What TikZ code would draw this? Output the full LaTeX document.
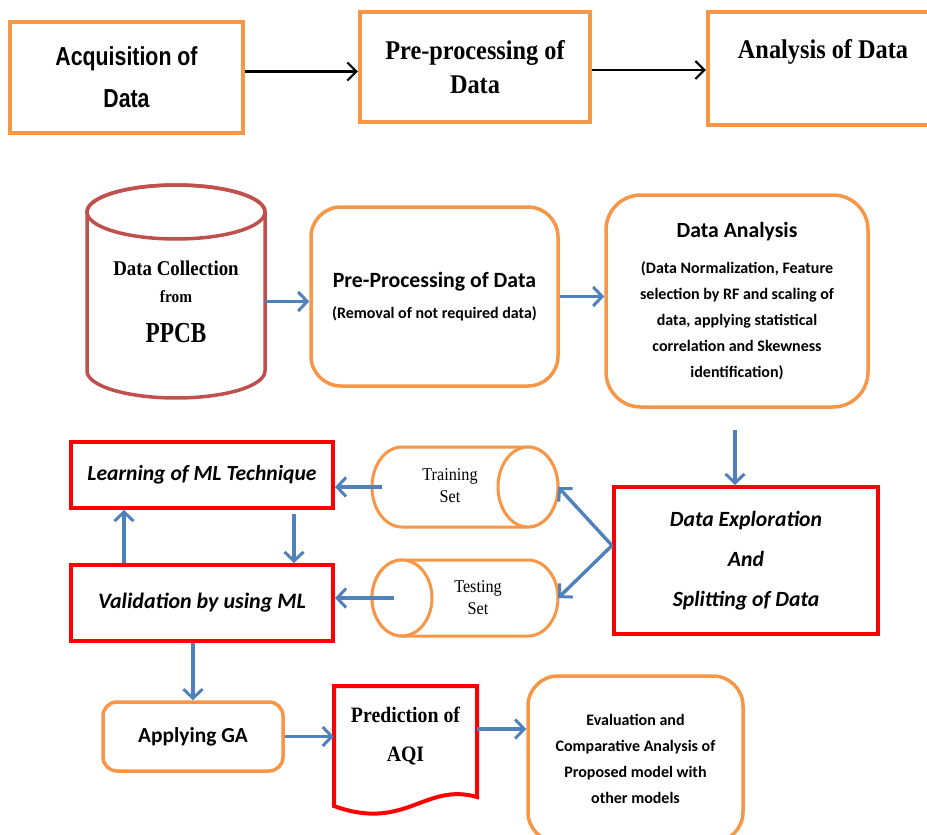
\documentclass[tikz,border=0pt]{standalone}
\usepackage{fontspec}
\setmainfont{Carlito}
\newfontfamily\tnr[FakeStretch=0.9]{Liberation Serif}
\newfontfamily\tnrn[FakeStretch=0.8]{Liberation Serif}
\newfontfamily\narrowsans[FakeStretch=0.82]{Liberation Sans}
\usetikzlibrary{arrows.meta}
\definecolor{orng}{HTML}{F79646}
\definecolor{dred}{HTML}{C0504D}
\definecolor{blu}{HTML}{4F81BD}
\begin{document}
\begin{tikzpicture}[x=1pt,y=-1pt,
  sqbox/.style={draw=orng, line width=4.5pt, fill=white, inner sep=0pt},
  obox/.style={draw=orng, line width=3.5pt, fill=white, rounded corners=30pt, inner sep=0pt, align=center},
  rbox/.style={draw=red, line width=4pt, fill=white, inner sep=0pt, align=center},
  ghost/.style={inner sep=0pt},
  karrow/.style={draw=black, line width=2.2pt, -{Straight Barb[length=9pt,width=18pt,line width=2pt]}},
  barrow/.style={draw=blu, line width=3.4pt, -{Straight Barb[length=9pt,width=19pt,line width=3pt]}},
  cyl/.style={draw=orng, line width=3pt, fill=white},
  txtc/.style={align=center, inner sep=0pt}
]
\useasboundingbox (0,0) rectangle (927,835);
\clip (0,0) rectangle (927,835);

% ---- top row ----
\node[sqbox, minimum width=233pt, minimum height=111pt, align=center,
      font=\narrowsans\bfseries\fontsize{26}{42}\selectfont] (b1) at (126.5,77.5) {Acquisition of\\Data};
\node[sqbox, minimum width=230pt, minimum height=110pt, align=center,
      font=\tnr\bfseries\fontsize{27}{34}\selectfont] (b2) at (475,67) {Pre-processing of\\Data};
\node[sqbox, minimum width=240pt, minimum height=113pt] (b3) at (828,68.5) {};
\node[txtc, font=\tnr\bfseries\fontsize{27}{30}\selectfont] (b3t) at (823,52) {Analysis of Data};

\coordinate (a1) at ([yshift=6pt]b1.east);
\draw[karrow] (a1) -- (a1 -| b2.west);
\coordinate (a2) at ([yshift=-3pt]b2.east);
\draw[karrow] (a2) -- (a2 -| b3.west);

% ---- PPCB cylinder ----
\draw[draw=dred, line width=3.5pt, fill=white]
  (87,212) -- (87,371) arc[start angle=180, end angle=0, x radius=89, y radius=27]
  -- (265,212) arc[start angle=0, end angle=-180, x radius=89, y radius=27] -- cycle;
\draw[draw=dred, line width=3.5pt] (176,212) ellipse [x radius=89, y radius=27];
\node[txtc, minimum width=178pt, font=\tnr\bfseries\fontsize{21}{27}\selectfont] (ppcb) at (176,302)
  {Data Collection\\{\fontsize{17}{27}\selectfont from}\\[13pt]{\tnrn\bfseries\fontsize{29}{31}\selectfont PPCB}};

% ---- pre-processing, data analysis ----
\node[obox, minimum width=247pt, minimum height=179pt] (prep) at (434.5,296.5)
  {{\bfseries\fontsize{21.8}{25}\selectfont Pre-Processing of Data}\\[14pt]
   {\bfseries\fontsize{16}{18}\selectfont (Removal of not required data)}};
\node[obox, rounded corners=35pt, minimum width=262pt, minimum height=212pt,
      font=\bfseries\fontsize{16}{26}\selectfont] (da) at (737,301)
  {{\fontsize{21.7}{25}\selectfont Data Analysis}\\[10pt]
   (Data Normalization, Feature\\selection by RF and scaling of\\data, applying statistical\\correlation and Skewness\\identification)};

\coordinate (a3) at ([yshift=-5pt]prep.west);
\draw[barrow] (a3 -| ppcb.east) -- (a3);
\draw[barrow] (prep.east) -- (prep.east -| da.west);

% ---- data exploration ----
\node[rbox, minimum width=264pt, minimum height=147pt,
      font=\bfseries\itshape\fontsize{21.7}{40}\selectfont] (de) at (746,560.5)
  {Data Exploration\\And\\Splitting of Data};
\coordinate (a5) at (735,430);
\draw[barrow] (a5) -- (a5 |- de.north);

% ---- training / testing cylinders ----
\draw[cyl] (528,447) -- (402,447) arc[start angle=270, end angle=90, x radius=30, y radius=40]
  -- (528,527) arc[start angle=90, end angle=-90, x radius=30, y radius=40] -- cycle;
\draw[cyl] (528,487) ellipse [x radius=30, y radius=40];
\node[ghost, minimum width=186pt, minimum height=80pt] (train) at (465,487) {};
\node[txtc, font=\tnr\fontsize{18}{22}\selectfont] at (450,486) {Training\\Set};

\draw[cyl] (402,560) -- (528,560) arc[start angle=-90, end angle=90, x radius=30, y radius=38]
  -- (402,636) arc[start angle=90, end angle=270, x radius=30, y radius=38] -- cycle;
\draw[cyl] (402,598) ellipse [x radius=30, y radius=38];
\node[ghost, minimum width=186pt, minimum height=76pt] (test) at (465,598) {};
\node[txtc, font=\tnr\fontsize{18}{22}\selectfont] at (478,598) {Testing\\Set};

\coordinate (a6) at ([yshift=15pt]de.west);
\draw[barrow] (a6) -- (train.east);
\draw[barrow] (a6) -- (test.east);

% ---- learning / validation ----
\node[rbox, minimum width=262pt, minimum height=66pt,
      font=\bfseries\itshape\fontsize{21.6}{25}\selectfont] (learn) at (202,475) {Learning of ML Technique};
\node[rbox, minimum width=262pt, minimum height=76pt,
      font=\bfseries\itshape\fontsize{22}{25}\selectfont] (val) at (202,603) {Validation by using ML};

\coordinate (a7) at ([xshift=10pt]train.west);
\draw[barrow] (a7) -- (a7 -| learn.east);
\coordinate (a8) at ([xshift=22pt]test.west);
\draw[barrow] (a8) -- (a8 -| val.east);
\coordinate (a9) at ([xshift=55pt]val.north west);
\draw[barrow] (a9) -- (a9 |- learn.south);
\coordinate (a10) at ([xshift=225pt,yshift=-4pt]learn.south west);
\draw[barrow] (a10) -- (a10 |- val.north);

% ---- bottom row ----
\node[obox, rounded corners=14pt, minimum width=180pt, minimum height=69pt,
      font=\bfseries\fontsize{21.4}{25}\selectfont] (ga) at (193,736.5) {Applying GA};
\draw[draw=red, line width=4pt, fill=white]
  (334,686) -- (477,686) -- (477,797) .. controls (425,782) and (405,832) .. (334,806) -- cycle;
\node[ghost, minimum width=143pt, minimum height=130pt] (pred) at (405.5,750) {};
\node[txtc, font=\tnr\bfseries\fontsize{22}{39}\selectfont] at (405.5,736) {Prediction of\\AQI};
\node[obox, minimum width=215pt, minimum height=166pt,
      font=\bfseries\fontsize{16}{26}\selectfont] (eval) at (635.5,759)
  {Evaluation and\\Comparative Analysis of\\Proposed model with\\other models};

\draw[barrow] (val.south -| ga.north) -- (ga.north);
\draw[barrow] (ga.east) -- (ga.east -| pred.west);
\coordinate (a11) at ([yshift=21pt]pred.east);
\draw[barrow] (a11) -- (a11 -| eval.west);
\end{tikzpicture}
\end{document}
